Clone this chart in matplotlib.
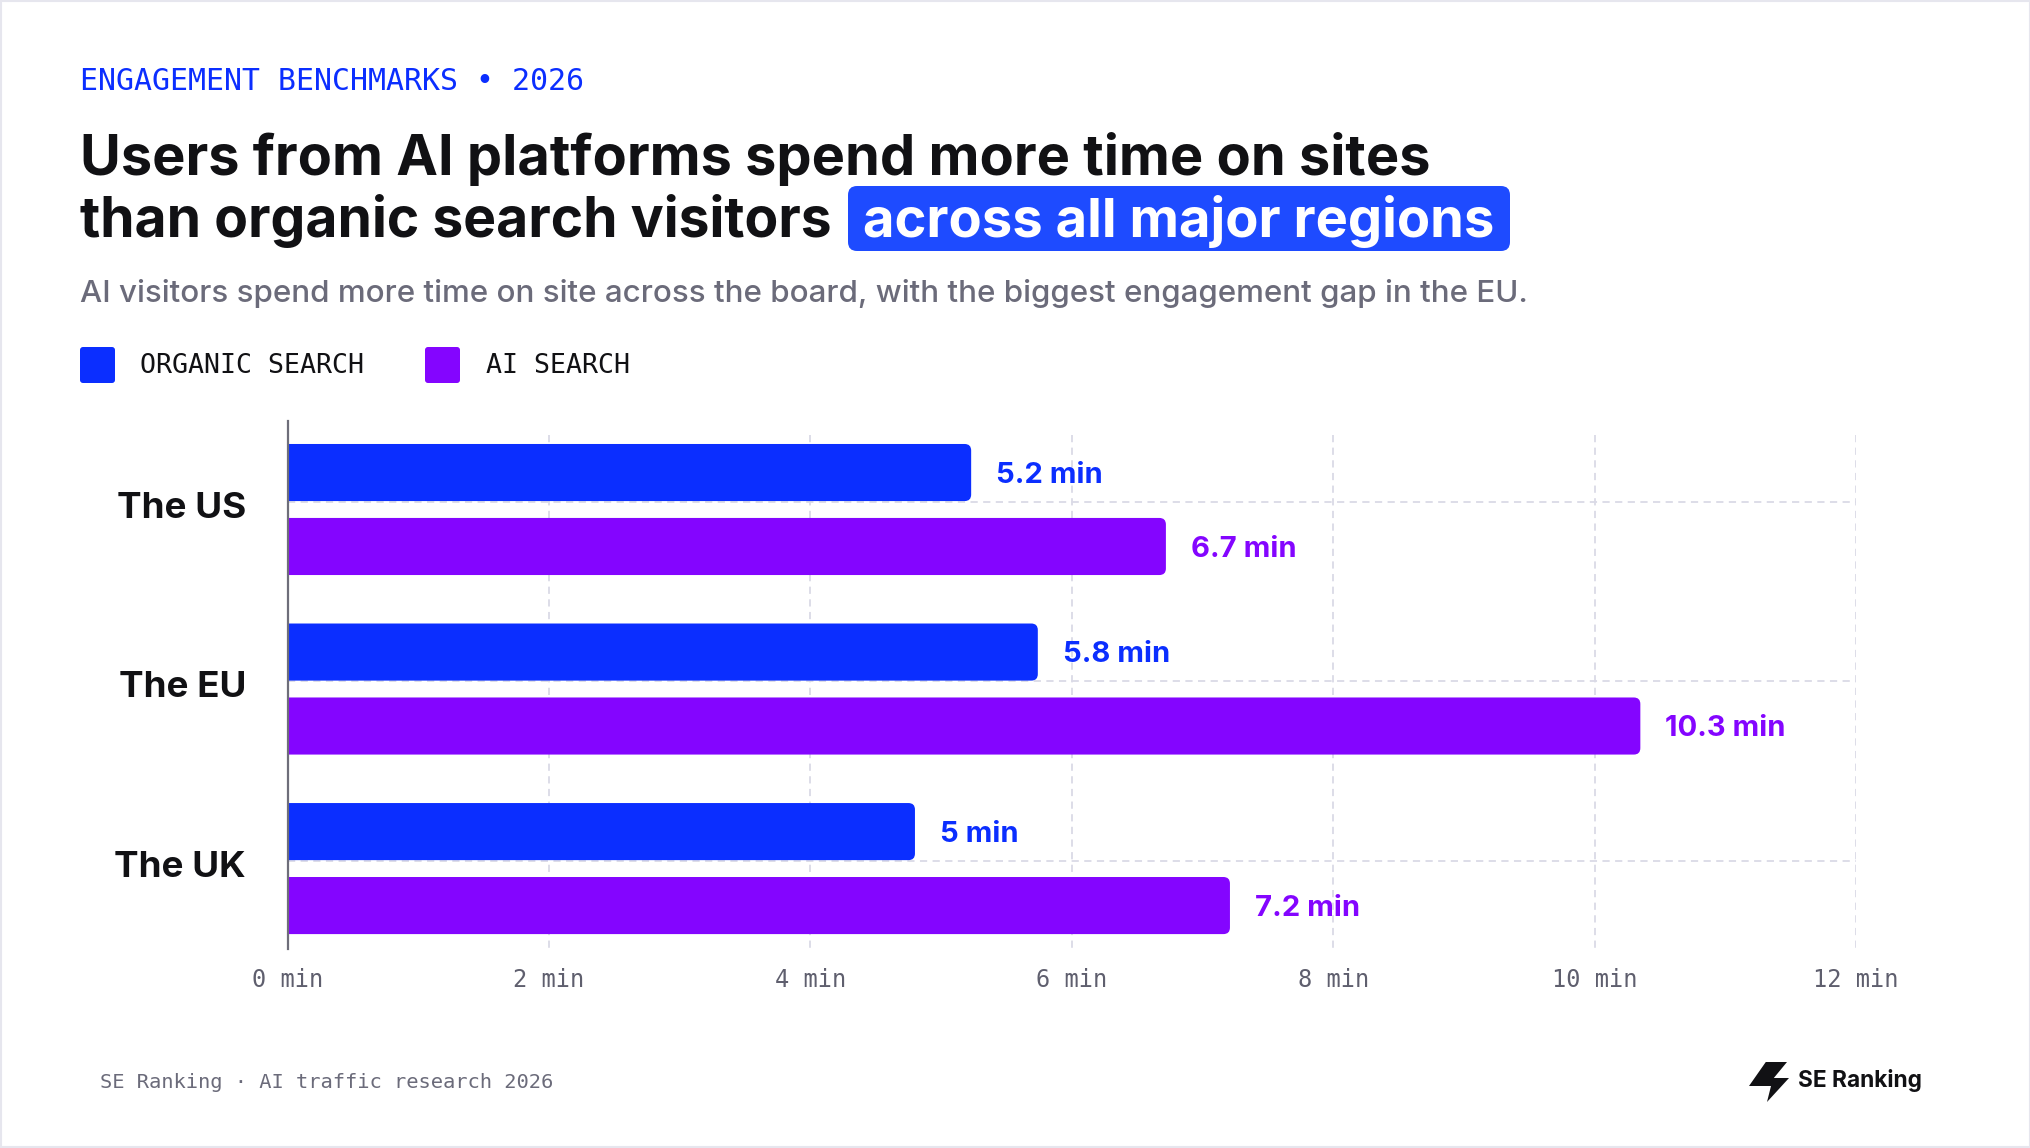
import matplotlib
matplotlib.use("Agg")
import matplotlib.pyplot as plt
from matplotlib.patches import FancyBboxPatch, Rectangle, Polygon
from matplotlib.transforms import IdentityTransform, ScaledTranslation

# data (bar lengths as drawn, labels as printed)
regions = ["The US", "The EU", "The UK"]
organic = [5.23, 5.74, 4.8]
ai = [6.72, 10.35, 7.21]
organic_labels = ["5.2 min", "5.8 min", "5 min"]
ai_labels = ["6.7 min", "10.3 min", "7.2 min"]
xticks = [0, 2, 4, 6, 8, 10, 12]
series_names = ["ORGANIC SEARCH", "AI SEARCH"]

BLUE = "#0B2EFF"
PURPLE = "#8405FF"
HILITE = "#1E4BFF"
INK = "#111114"
GREY = "#6B6B7A"
MONO = "DejaVu Sans Mono"
SANS = "Inter"

W, H = 2031, 1148
fig = plt.figure(figsize=(W / 100, H / 100), dpi=100)
fig.patch.set_facecolor("white")
ident = IdentityTransform()


def put(x, y, s, **kw):
    # x, y in pixels from the top-left corner
    return fig.text(x / W, 1 - y / H, s, **kw)


def fit(t, width):
    r = fig.canvas.get_renderer()
    w = t.get_window_extent(r).width
    t.set_fontsize(t.get_fontsize() * width / w)
    return t


# faint frame
fig.add_artist(Rectangle((1, 1), W - 2, H - 2, transform=ident, fill=False,
                         ec="#E6E6EE", lw=1.5))

# header
fit(put(80, 82, "ENGAGEMENT BENCHMARKS \u2022 2026", family=MONO, color=BLUE,
        fontsize=21, va="center"), 503)

fit(put(80, 175, "Users from AI platforms spend more time on sites", family=SANS,
        weight="bold", color=INK, fontsize=40, va="baseline"), 1350)
fit(put(80, 237, "than organic search visitors", family=SANS, weight="bold",
        color=INK, fontsize=40, va="baseline"), 752)
fig.add_artist(FancyBboxPatch((848, H - 251), 662, 65,
                              boxstyle="round,pad=0,rounding_size=9",
                              transform=ident, fc=HILITE, ec="none", zorder=2))
fit(put(863, 237, "across all major regions", family=SANS, weight="bold",
        color="white", fontsize=40, va="baseline", zorder=3), 632)

fit(put(80, 302, "AI visitors spend more time on site across the board, with the biggest "
        "engagement gap in the EU.", family=SANS, weight="medium", color=GREY,
        fontsize=25, va="baseline"), 1448)

# legend
for sx, tx, col, name in [(80, 140, BLUE, series_names[0]),
                          (425, 486, PURPLE, series_names[1])]:
    fig.add_artist(FancyBboxPatch((sx, H - 383), 35, 36,
                                  boxstyle="round,pad=0,rounding_size=3",
                                  transform=ident, fc=col, ec="none"))
    put(tx, 366, name, family=MONO, color=INK, fontsize=19.2, va="center")

# chart
x0, x1, ytop, ybot = 287.6, 1856, 421, 949
ax = fig.add_axes([x0 / W, 1 - ybot / H, (x1 - x0) / W, (ybot - ytop) / H])
ax.set_xlim(0, 12)
ax.set_ylim(2.448, -0.493)
for s in ["top", "right", "bottom"]:
    ax.spines[s].set_visible(False)
ax.spines["left"].set_color("#6E6E7A")
ax.spines["left"].set_linewidth(1.6)
ax.spines["left"].set_zorder(5)

off, bh = 0.206, 0.318
for xv in xticks[1:]:
    ax.vlines(xv, -0.415, 2.448, color="#DADAE6", lw=1.3, linestyles=(0, (4, 3)), zorder=0)
for i in range(len(regions)):
    ax.hlines(i - off + bh / 2 + 0.005, 0, 12, color="#DADAE6", lw=1.3,
              linestyles=(0, (4, 3)), zorder=0)

aspect = (1 / 179.5) / (1 / 130.7)
for i, (o, a) in enumerate(zip(organic, ai)):
    for val, yc, col, lab in [(o, i - off, BLUE, organic_labels[i]),
                              (a, i + off, PURPLE, ai_labels[i])]:
        ax.add_patch(FancyBboxPatch((-0.2, yc - bh / 2), val + 0.2, bh,
                                    boxstyle="round,pad=0,rounding_size=0.05",
                                    mutation_aspect=aspect, fc=col, ec="none", zorder=2))
        ax.annotate(lab, (val, yc), xytext=(18, -2), textcoords="offset points",
                    ha="left", va="center", family=SANS, weight="bold",
                    fontsize=21, color=col)

ax.set_xticks(xticks)
ax.set_xticklabels([f"{t} min" for t in xticks], family=MONO, fontsize=17, color="#5F5F6E")
ax.set_yticks(range(len(regions)))
ax.set_yticklabels(regions, family=SANS, weight="bold", fontsize=26.5, color=INK)
ax.tick_params(axis="x", length=0, pad=14)
ax.tick_params(axis="y", length=0, pad=30)
lift = ScaledTranslation(0, 5 / 100, fig.dpi_scale_trans)
for t in ax.get_yticklabels():
    t.set_verticalalignment("center_baseline")
    t.set_transform(t.get_transform() + lift)

# footer
fit(put(100, 1082, "SE Ranking \u00b7 AI traffic research 2026", family=MONO,
        color=GREY, fontsize=14.7, va="center"), 453)
fit(put(1798, 1080, "SE Ranking", family=SANS, weight="bold", color=INK,
        fontsize=18, va="center"), 124)
# logo mark
bx, by, bw, bht = 1749, 1062, 40, 40
pts = [(0.42, 0.0), (0.95, 0.0), (0.62, 0.40), (1.0, 0.40), (0.45, 1.0),
       (0.55, 0.60), (0.0, 0.60)]
fig.add_artist(Polygon([(bx + px_ * bw, H - (by + py_ * bht)) for px_, py_ in pts],
                       closed=True, transform=ident, fc=INK, ec="none"))

fig.savefig("out.png", dpi=100, facecolor="white")
